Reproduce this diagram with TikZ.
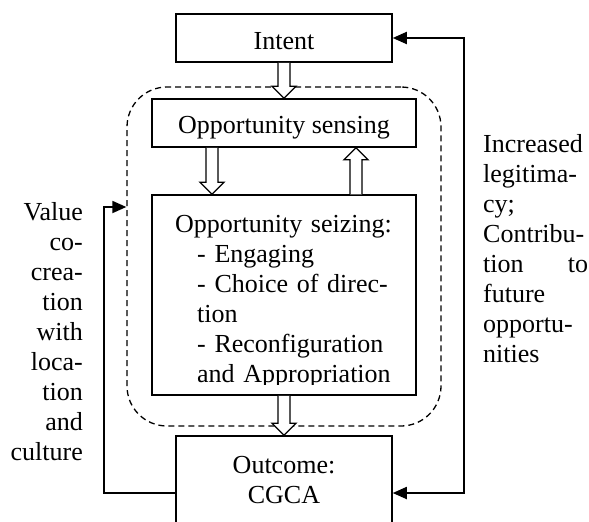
\documentclass[tikz,border=0pt]{standalone}
\usepackage{fontspec}
\setmainfont{Liberation Serif}
\usetikzlibrary{arrows.meta,calc}
\tikzset{
  boxnode/.style={rectangle, draw=black, line width=1.5pt, fill=white, inner sep=0pt},
  boxtext/.style={inner sep=0pt, font=\fontsize{26pt}{30pt}\selectfont},
  dashframe/.style={rectangle, draw=black, line width=1.3pt, dash pattern=on 6pt off 4pt,
                    rounded corners=40pt, inner sep=0pt},
  fbline/.style={line width=1.8pt, draw=black},
  fbtip/.style={-{Triangle[length=14pt, width=12pt]}},
  hollowline/.style={line width=1.3pt, draw=black, fill=white, line join=miter},
}
% open block arrow from #1 to #2
\newcommand{\hollowarrow}[2]{%
  \coordinate (ha) at #1;
  \coordinate (hb) at #2;
  \coordinate (hh) at ($(hb)!12pt!(ha)$);
  \draw[hollowline] ($(ha)!6pt!90:(hb)$) -- ($(hh)!6pt!-90:(ha)$) -- ($(hh)!12pt!-90:(ha)$) -- (hb)
    -- ($(hh)!12pt!90:(ha)$) -- ($(hh)!6pt!90:(ha)$) -- ($(ha)!6pt!-90:(hb)$);
}

\begin{document}
\begin{tikzpicture}[x=1pt, y=-1pt]
  \useasboundingbox (0,0) rectangle (589,522);
  \clip (0,0) rectangle (589,522);
  % dashed frame round sensing and seizing
  \node[dashframe, minimum width=314pt, minimum height=339pt] (frame) at (284,256.5) {};
  % boxes
  \node[boxnode, minimum width=216pt, minimum height=48pt]  (intent)  at (284,38)  {};
  \node[boxnode, minimum width=264pt, minimum height=48pt]  (sensing) at (284,123) {};
  \node[boxnode, minimum width=264pt, minimum height=200pt] (seizing) at (284,295) {};
  \node[boxnode, minimum width=216pt, minimum height=114pt] (outcome) at (284,493) {};
  % box texts
  \node[boxtext, anchor=base] (intentlbl)  at (284,49)  {Intent};
  \node[boxtext, anchor=base] (sensinglbl) at (284,133) {Opportunity sensing};
  \begin{scope}
    \clip (seizing.north west) rectangle (416,384.5);
    \node[boxtext, text width=218pt, align=left, anchor=base west] (seizinglbl) at (175,232)
      {Opportunity seizing:\\
       \hspace*{22pt}- Engaging\\
       \hspace*{22pt}\makebox[196pt][s]{- Choice of direc-}\\
       \hspace*{22pt}tion\\
       \hspace*{22pt}\makebox[196pt][s]{- Reconfiguration}\\
       \hspace*{22pt}and Appropriation};
  \end{scope}
  \node[boxtext, text width=216pt, align=center, anchor=base] (outcomelbl) at (284,473) {Outcome:\\CGCA};
  % side texts
  \node[boxtext, text width=80pt, align=right, anchor=base east] (valuelbl) at (83,220)
    {Value\\co-\\crea-\\tion\\with\\loca-\\tion\\and\\culture};
  \node[boxtext, text width=105pt, align=left, anchor=base west] (legitlbl) at (483,152)
    {Increased\\legitima-\\cy;\\Contribu-\\tion\hfill to\\future\\opportu-\\nities};
  % block arrows
  \hollowarrow{(intent.south)}{(sensing.north)}
  \hollowarrow{([xshift=-72pt]sensing.south)}{([xshift=-72pt]seizing.north)}
  \hollowarrow{([xshift=72pt]seizing.north)}{([xshift=72pt]sensing.south)}
  \hollowarrow{(seizing.south)}{(outcome.north)}
  % feedback loops
  \draw[fbline, {Triangle[length=14pt, width=12pt]}-{Triangle[length=14pt, width=12pt]}]
    (intent.east) -- ++(71,0) |- (outcome.east);
  \coordinate (fbturn) at (104,207);
  \draw[fbline, fbtip] (outcome.west) -| (fbturn) -- (fbturn -| frame.west);
\end{tikzpicture}
\end{document}
